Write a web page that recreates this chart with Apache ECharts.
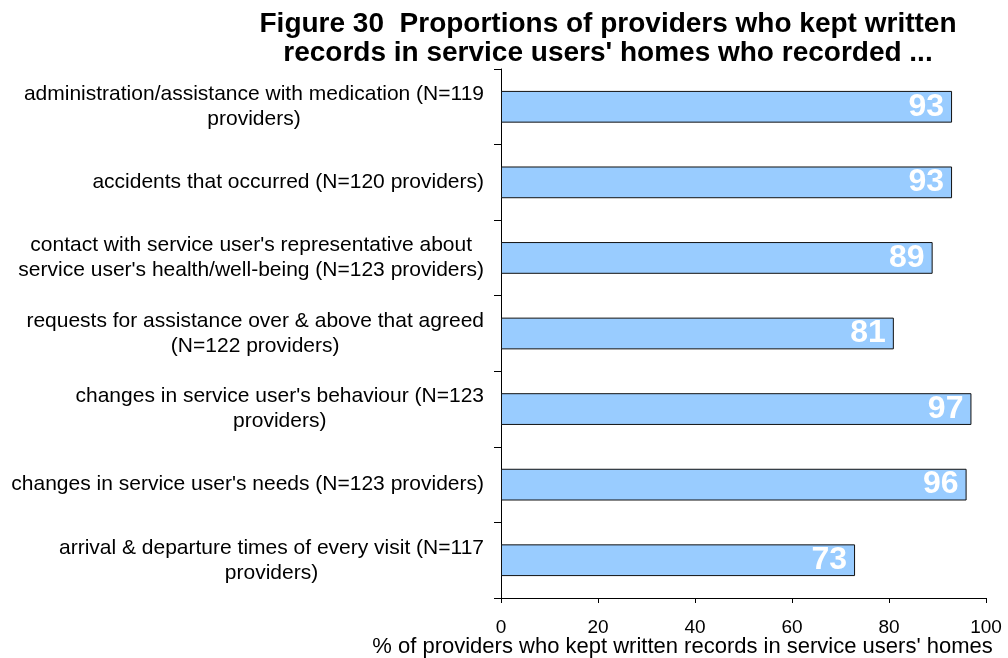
<!DOCTYPE html>
<html>
<head>
<meta charset="utf-8">
<script src="https://cdn.jsdelivr.net/npm/echarts@6/dist/echarts.min.js"></script>
<style>html,body{margin:0;padding:0;background:#fff}#c{width:1008px;height:658px}</style>
</head>
<body>
<div id="c"></div>
<script>
var categories = [
  "administration/assistance with medication (N=119\nproviders)",
  "accidents that occurred (N=120 providers)",
  "contact with service user's representative about\nservice user's health/well-being (N=123 providers)",
  "requests for assistance over & above that agreed\n(N=122 providers)",
  "changes in service user's behaviour (N=123\nproviders)",
  "changes in service user's needs (N=123 providers)",
  "arrival & departure times of every visit (N=117\nproviders)"
];
var values = [93, 93, 89, 81, 97, 96, 73];
var xTicks = [0, 20, 40, 60, 80, 100];
var titleText = "Figure 30  Proportions of providers who kept written\nrecords in service users' homes who recorded ...";
var xName = "% of providers who kept written records in service users' homes";

var chart = echarts.init(document.getElementById('c'), null, {renderer: 'canvas'});
var font = "'Liberation Sans', Arial, sans-serif";
chart.setOption({
  animation: false,
  backgroundColor: '#ffffff',
  title: {
    text: titleText,
    left: 603,
    textAlign: 'center',
    top: 5,
    textStyle: {fontFamily: font, fontSize: 28, fontWeight: 'bold', color: '#000', lineHeight: 29}
  },
  grid: {left: 501, right: 22, top: 69, bottom: 60, containLabel: false, outerBoundsMode: 'none'},
  xAxis: {
    type: 'value',
    min: xTicks[0],
    max: xTicks[xTicks.length - 1],
    interval: 20,
    name: xName,
    nameLocation: 'middle',
    nameGap: 38,
    nameMoveOverlap: false,
    nameTextStyle: {fontFamily: font, fontSize: 22, color: '#000', padding: [0, 122, 0, 0]},
    axisLine: {show: true, lineStyle: {color: '#000', width: 1}},
    axisTick: {show: true, length: 5, lineStyle: {color: '#000'}},
    axisLabel: {fontFamily: font, fontSize: 19, color: '#000', margin: 20},
    splitLine: {show: false}
  },
  yAxis: {
    type: 'category',
    data: categories,
    inverse: true,
    axisLine: {show: true, lineStyle: {color: '#000', width: 1}},
    axisTick: {show: true, length: 7, lineStyle: {color: '#000'}},
    axisLabel: {
      margin: 17,
      formatter: function (v) {
        return v.split('\n').map(function (l) { return '{c|' + l + '}'; }).join('\n');
      },
      rich: {
        c: {fontFamily: font, fontSize: 21, color: '#000', align: 'center', lineHeight: 25}
      }
    },
    splitLine: {show: false}
  },
  series: [{
    type: 'bar',
    data: values,
    barWidth: '42%',
    itemStyle: {color: '#99ccff', borderColor: '#111', borderWidth: 1},
    label: {
      show: true,
      position: 'insideRight',
      distance: 8,
      color: '#fff',
      fontFamily: font,
      fontSize: 32,
      fontWeight: 'bold'
    }
  }]
});
</script>
</body>
</html>
